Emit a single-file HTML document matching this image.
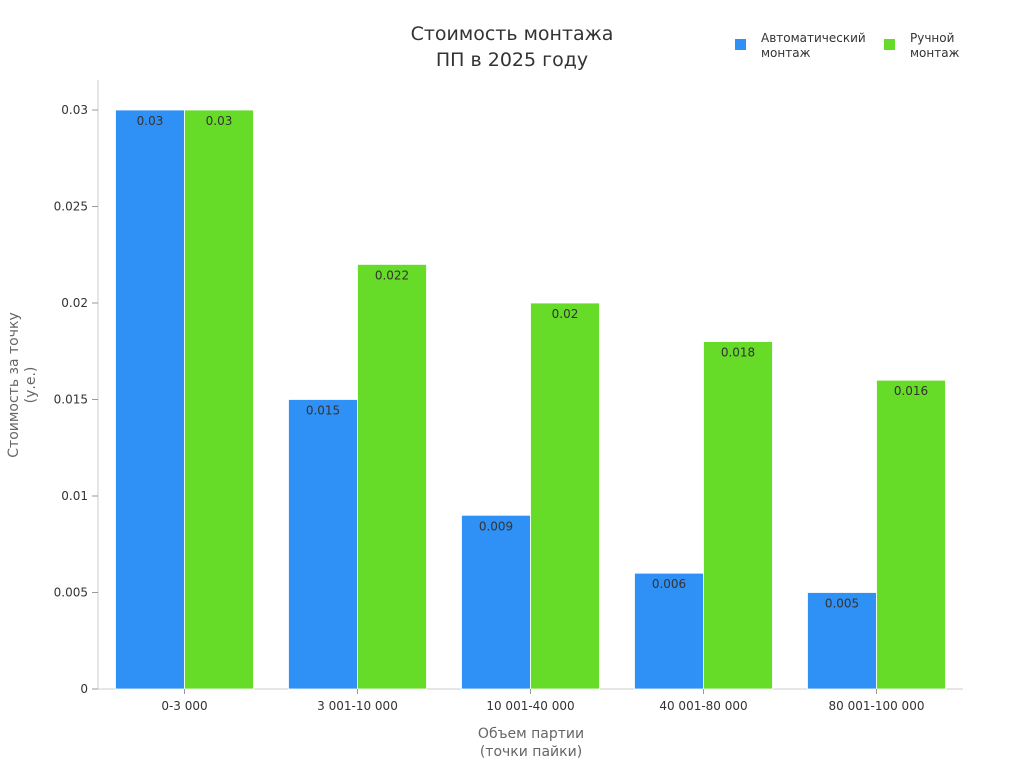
<!DOCTYPE html>
<html><head><meta charset="utf-8"><style>
body{margin:0;background:#fff;font-family:"Liberation Sans","DejaVu Sans",sans-serif}
</style></head><body>
<svg id="chart" width="1024" height="768" xmlns="http://www.w3.org/2000/svg" font-family="DejaVu Sans, Liberation Sans, sans-serif">
<text x="512" y="40" text-anchor="middle" font-size="19" fill="#333">Стоимость монтажа</text>
<text x="512" y="66" text-anchor="middle" font-size="19" fill="#333">ПП в 2025 году</text>
<g>
<rect x="735" y="39" width="11" height="11" fill="#2f91f5"/>
<text x="761" y="42" font-size="12" fill="#333">Автоматический</text>
<text x="761" y="57" font-size="12" fill="#333">монтаж</text>
<rect x="884" y="39" width="11" height="11" fill="#66db28"/>
<text x="910" y="42" font-size="12" fill="#333">Ручной</text>
<text x="910" y="57" font-size="12" fill="#333">монтаж</text>
</g>
<g id="plot"></g>
<text x="531" y="738" text-anchor="middle" font-size="14" fill="#666">Объем партии</text>
<text x="531" y="756" text-anchor="middle" font-size="14" fill="#666">(точки пайки)</text>
<text transform="translate(18,385) rotate(-90)" text-anchor="middle" font-size="14" fill="#666">Стоимость за точку</text>
<text transform="translate(35,385) rotate(-90)" text-anchor="middle" font-size="14" fill="#666">(у.е.)</text>
</svg>
<script>
const categories=["0-3 000","3 001-10 000","10 001-40 000","40 001-80 000","80 001-100 000"];
const autoValues=[0.03,0.015,0.009,0.006,0.005];
const manualValues=[0.03,0.022,0.02,0.018,0.016];
const yTicks=[0,0.005,0.01,0.015,0.02,0.025,0.03];
const yTickLabels=["0","0.005","0.01","0.015","0.02","0.025","0.03"];
const NS="http://www.w3.org/2000/svg";
const g=document.getElementById('plot');
const X0=98,X1=963,Y0=689,Y1=110,VMAX=0.03;
const y=v=>Y0-(v/VMAX)*(Y0-Y1);
const band=(X1-X0)/categories.length;
const xc=i=>X0+band*(i+0.5);
const bw=69;
function el(t,a){const e=document.createElementNS(NS,t);for(const k in a)e.setAttribute(k,a[k]);g.appendChild(e);return e;}
let ax=el('line',{x1:X0,y1:80,x2:X0,y2:Y0,stroke:'#ccc'});


let bx=el('line',{x1:X0,y1:Y0,x2:X1,y2:Y0,stroke:'#ccc'});


yTicks.forEach((v,i)=>{
 const tk=el('line',{x1:X0-6,x2:X0,y1:y(v),y2:y(v),stroke:'#999'});
 
 
 const t=el('text',{x:X0-10,y:y(v)+4,'text-anchor':'end','font-size':12,fill:'#333'});
 t.textContent=yTickLabels[i];
 
 
});
categories.forEach((c,i)=>{
 const series=[[autoValues[i],'#2f91f5',-bw,'auto'],[manualValues[i],'#66db28',0,'manual']];
 series.forEach(([v,col,off,nm])=>{
  const r=el('rect',{x:xc(i)+off,y:y(v),width:bw,height:Y0-y(v),fill:col,stroke:'#fff','stroke-width':0.8});
  
  
  const t=el('text',{x:xc(i)+off+bw/2,y:y(v)+15,'text-anchor':'middle','font-size':12,fill:'#333'});
  t.textContent=String(v);
  
  
 });
 const tk=el('line',{x1:xc(i),x2:xc(i),y1:Y0,y2:Y0+5,stroke:'#999'});
 
 
 const t=el('text',{x:xc(i),y:Y0+21,'text-anchor':'middle','font-size':12,fill:'#333'});
 t.textContent=c;
 
 
});
</script>
</body></html>
